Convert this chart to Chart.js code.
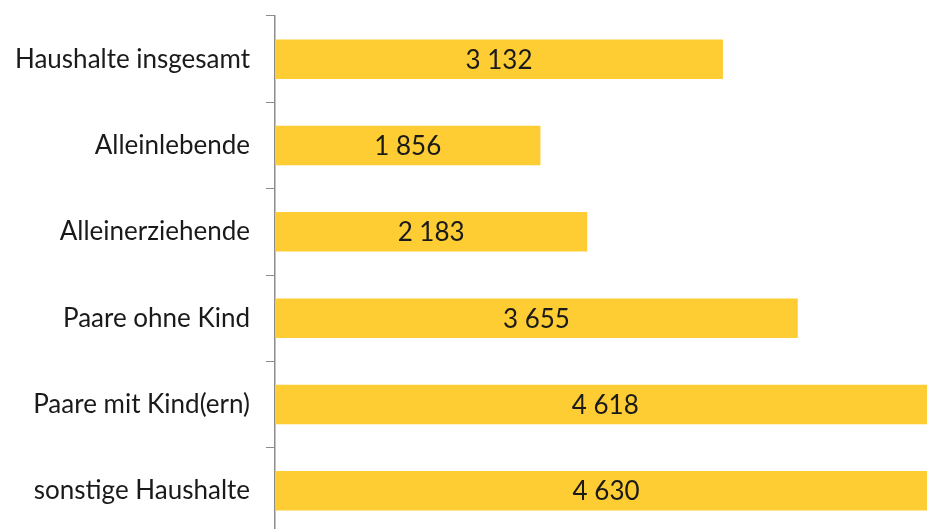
<!DOCTYPE html>
<html>
<head>
<meta charset="utf-8">
<script src="https://cdn.jsdelivr.net/npm/chart.js@4"></script>
<style>
  html, body { margin: 0; padding: 0; overflow: hidden; background: #fff; }
  #wrap { width: 1000px; height: 540px; }
</style>
</head>
<body>
<div id="wrap"><canvas id="householdChart" width="1000" height="540"></canvas></div>
<script>
const categories = ['Haushalte insgesamt', 'Alleinlebende', 'Alleinerziehende', 'Paare ohne Kind', 'Paare mit Kind(ern)', 'sonstige Haushalte'];
const values = [3132, 1856, 2183, 3655, 4618, 4630];

const barColor = '#fecc33';
const axisColor = '#8c8c8c';
const textColor = '#1a1a1a';

// draw the value in the middle of each bar, "3 132" style
const valueLabels = {
  id: 'valueLabels',
  afterDatasetsDraw(chart) {
    const ctx = chart.ctx;
    const meta = chart.getDatasetMeta(0);
    ctx.save();
    ctx.font = '26px Lato';
    ctx.fillStyle = textColor;
    ctx.textAlign = 'center';
    ctx.textBaseline = 'middle';
    meta.data.forEach((bar, i) => {
      const txt = String(values[i]).replace(/\B(?=(\d{3})+(?!\d))/g, ' ');
      ctx.fillText(txt, (bar.base + bar.x) / 2, bar.y + 1);
    });
    ctx.restore();
  }
};

const ctx = document.getElementById('householdChart').getContext('2d');
new Chart(ctx, {
  type: 'bar',
  data: {
    labels: categories,
    datasets: [{
      data: values,
      backgroundColor: barColor,
      borderWidth: 0,
      categoryPercentage: 1,
      barPercentage: 0.457
    }]
  },
  options: {
    indexAxis: 'y',
    responsive: false,
    animation: false,
    layout: {
      padding: { top: 16, bottom: 6, left: 0, right: 0 }
    },
    plugins: {
      legend: { display: false },
      title: { display: false },
      tooltip: { enabled: false }
    },
    scales: {
      x: {
        display: false,
        min: 0,
        max: 5069
      },
      y: {
        afterFit(scale) {
          scale.width = 275;
          scale.paddingTop = 0;
          scale.paddingBottom = 0;
        },
        grid: {
          drawOnChartArea: false,
          tickLength: 9,
          color: axisColor,
          offset: true
        },
        border: {
          color: axisColor,
          width: 1.5
        },
        ticks: {
          padding: 16,
          color: textColor,
          font: { family: 'Lato', size: 26 }
        }
      }
    }
  },
  plugins: [valueLabels]
});
</script>
</body>
</html>
